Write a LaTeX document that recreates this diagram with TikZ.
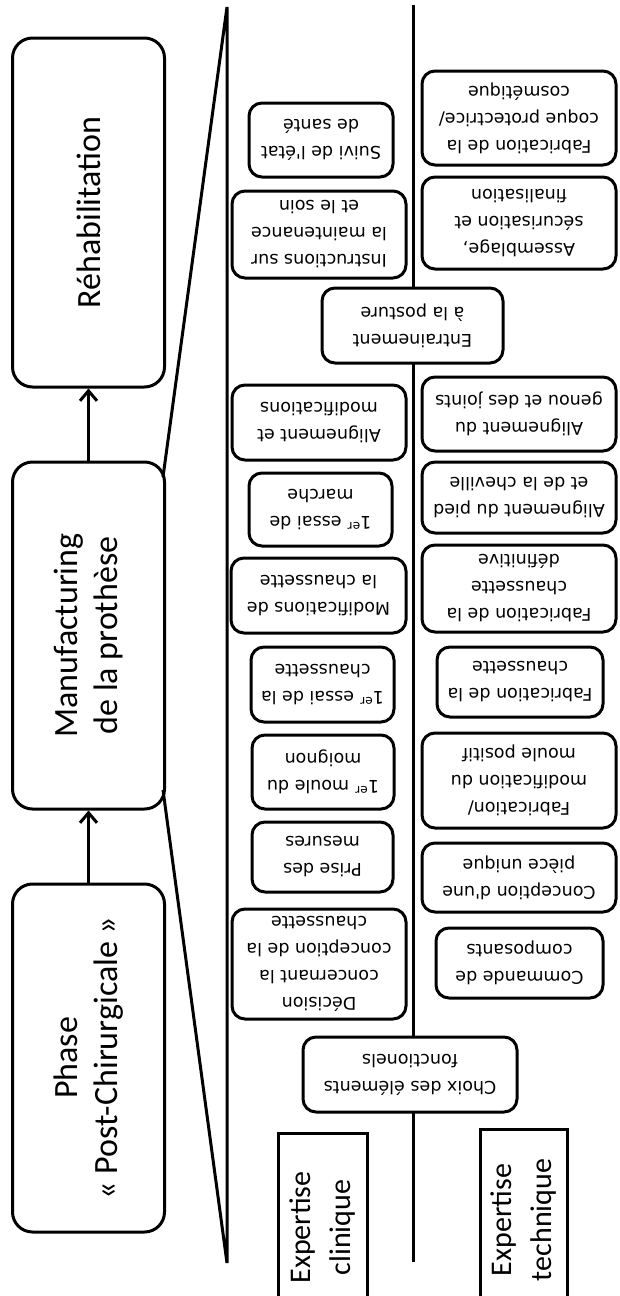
\documentclass[tikz,border=0pt]{standalone}
\usepackage{fontspec}
\setmainfont{Carlito}
\newfontfamily\smallfont{DejaVu Sans}
\usetikzlibrary{arrows.meta}
\begin{document}
\begin{tikzpicture}[x=1pt,y=-1pt,
  bigbox/.style={draw, line width=3pt, rounded corners=20pt, rotate=90, align=center, inner sep=0pt, font=\fontsize{34}{40}\selectfont},
  exbox/.style={draw, line width=3pt, rotate=90, align=center, inner sep=0pt, font=\fontsize{30}{40}\selectfont},
  sbox/.style={draw, fill=white, line width=3pt, rounded corners=13pt, rotate=180, align=center, inner sep=0pt, font=\smallfont\fontsize{17.5}{27}\selectfont},
  ln/.style={line width=3pt},
  arr/.style={line width=3pt, -{Straight Barb[length=10pt,width=17pt]}}
]
\useasboundingbox (0,0) rectangle (620,1296);
\clip (0,0) rectangle (620,1296);

% big boxes
\node[bigbox, minimum width=349, minimum height=152] (Rehab) at (88.5,212.5) {Réhabilitation};
\node[bigbox, minimum width=347, minimum height=152] (Manuf) at (88.5,635.5) {Manufacturing\\de la prothèse};
\node[bigbox, minimum width=348, minimum height=152] (Phase) at (88.5,1058) {Phase\\« Post-Chirurgicale »};
\draw[arr] (Phase.east) -- (Manuf.west);
\draw[arr] (Manuf.east) -- (Rehab.west);

% trapezoid and column lines
\coordinate (m1) at (163,477);
\coordinate (m2) at (163,790);
\coordinate (t1) at (227,7);
\coordinate (t2) at (227,1263);
\coordinate (v1) at (413,5);
\coordinate (v2) at (413,1262);
\draw[ln, line join=miter] (m1) -- (t1) -- (t2) -- (m2);
\draw[ln] (v1) -- (v2);

% expertise boxes
\node[exbox, minimum width=189, minimum height=89] (ExpC) at (322.5,1227.5) {Expertise\\clinique};
\node[exbox, minimum width=182, minimum height=87] (ExpT) at (523.5,1220) {Expertise\\technique};

% clinical column
\node[sbox, minimum width=144, minimum height=74] (c1) at (321,140) {Suivi de l'état\\de santé};
\node[sbox, minimum width=174, minimum height=87] (c2) at (319,234.5) {Instructions sur\\la maintenance\\et le soin};
\node[sbox, minimum width=181, minimum height=75] (c3) at (412.5,325.5) {Entrainement\\à la posture};
\node[sbox, minimum width=174, minimum height=75] (c4) at (319,422.5) {Alignement et\\modifications};
\node[sbox, minimum width=143, minimum height=73] (c5) at (320.5,509.5) {1\textsuperscript{er} essai de\\marche};
\node[sbox, minimum width=175, minimum height=75] (c6) at (318.5,595.5) {Modifications de\\la chaussette};
\node[sbox, minimum width=143, minimum height=75] (c7) at (322.5,684.5) {1\textsuperscript{er} essai de la\\chaussette};
\node[sbox, minimum width=142, minimum height=74] (c8) at (323,772) {1\textsuperscript{er} moule du\\moignon};
\node[sbox, minimum width=141, minimum height=70] (c9) at (322.5,857) {Prise des\\mesures};
\node[sbox, minimum width=174, minimum height=110] (c10) at (319,964) {Décision\\concernant la\\conception de la\\chaussette};
\node[sbox, minimum width=214, minimum height=75] (c11) at (410,1074.5) {Choix des éléments\\fonctionels};

% technical column
\node[sbox, minimum width=194, minimum height=94] (t1b) at (519,118) {Fabrication de la\\coque protectrice/\\cosmétique};
\node[sbox, minimum width=194, minimum height=92] (t2b) at (519,223) {Assemblage,\\sécurisation et\\finalisation};
\node[sbox, minimum width=194, minimum height=74] (t3b) at (519,414) {Alignement du\\genou et des joints};
\node[sbox, minimum width=194, minimum height=71] (t4b) at (519,497.5) {Alignement du pied\\et de la cheville};
\node[sbox, minimum width=194, minimum height=87] (t5b) at (519,588.5) {Fabrication de la\\chaussette\\définitive};
\node[sbox, minimum width=166, minimum height=70] (t6b) at (520,682) {Fabrication de la\\chaussette};
\node[sbox, minimum width=194, minimum height=95] (t7b) at (519,780.5) {Fabrication/\\modification du\\moule positif};
\node[sbox, minimum width=194, minimum height=69] (t8b) at (519,877.5) {Conception d'une\\pièce unique};
\node[sbox, minimum width=167, minimum height=70] (t9b) at (519.5,963) {Commande de\\composants};
\end{tikzpicture}
\end{document}
